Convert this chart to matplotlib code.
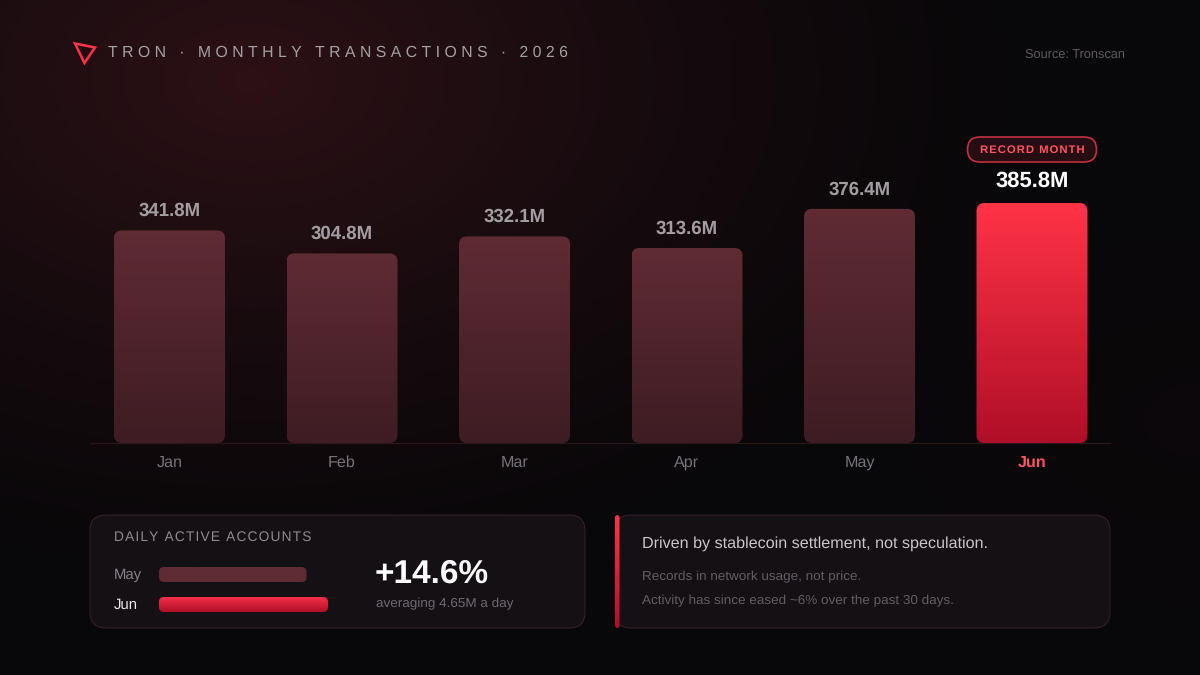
import numpy as np
import matplotlib
matplotlib.use('Agg')
import matplotlib.pyplot as plt
from matplotlib.colors import LinearSegmentedColormap
from matplotlib.patches import FancyBboxPatch, Polygon

plt.rcParams['font.family'] = ['Liberation Sans', 'DejaVu Sans']
plt.rcParams['text.hinting'] = 'no_hinting'
plt.rcParams['text.hinting_factor'] = 8

months = ['Jan', 'Feb', 'Mar', 'Apr', 'May', 'Jun']
transactions = [341.8, 304.8, 332.1, 313.6, 376.4, 385.8]
daily_months = ['May', 'Jun']
daily_accounts = [4.06, 4.65]

W, H = 1200, 675
HAIR = '\u200a'


def tracked(s, sep=HAIR):
    return sep.join(s)


def axes_px(fig, x0, y0, x1, y1):
    # axes from pixel box, y counted from the top
    ax = fig.add_axes([x0 / W, 1 - y1 / H, (x1 - x0) / W, (y1 - y0) / H])
    ax.patch.set_alpha(0)
    ax.axis('off')
    return ax


def rounded(ax, x, y, w, h, r, aspect, c_high, c_low):
    # rounded box with a vertical gradient, c_high at y + h and c_low at y
    patch = FancyBboxPatch((x, y), w, h, boxstyle=f'round,pad=0,rounding_size={r}',
                           mutation_aspect=aspect, fc='none', ec='none')
    ax.add_patch(patch)
    cmap = LinearSegmentedColormap.from_list('g', [c_high, c_low])
    im = ax.imshow(np.linspace(0, 1, 128).reshape(-1, 1), cmap=cmap, aspect='auto',
                   extent=(x, x + w, y, y + h), origin='upper', zorder=2)
    im.set_clip_path(patch)
    return patch


fig = plt.figure(figsize=(W / 100, H / 100), dpi=100)

# background glow
bg = axes_px(fig, 0, 0, W, H)
yy, xx = np.mgrid[0:H, 0:W]
d = np.sqrt(((xx - 250) / 800.0) ** 2 + ((yy - 80) / 520.0) ** 2)
glow = np.clip(1 - d, 0, 1) ** 1.3
d2 = np.sqrt(((xx - 1200) / 500.0) ** 2 + ((yy - 420) / 320.0) ** 2)
glow2 = np.clip(1 - d2, 0, 1) ** 1.5 * 0.1
g = np.clip(glow + glow2, 0, 1)[..., None]
base = np.array([8, 7, 9]) / 255
red = np.array([44, 17, 22]) / 255
bg.imshow(base + (red - base) * g, extent=(0, W, H, 0), aspect='auto', interpolation='bilinear')

# page layer in pixel coordinates
page = axes_px(fig, 0, 0, W, H)
page.set_xlim(0, W)
page.set_ylim(H, 0)

page.add_patch(Polygon([(75, 43.5), (95, 47.5), (84.5, 63)], closed=True, fc='none',
                       ec='#ff3347', lw=1.8, joinstyle='miter'))
page.text(108, 53, tracked('TRON · MONTHLY TRANSACTIONS · 2026', '\u2009\u200a'), color='#a59fa3',
          fontsize=11.3, va='center', ha='left')
page.text(1125, 54.5, 'Source: Tronscan', color='#5f5a60', fontsize=9.2, va='center', ha='right')

# main bars
ax = axes_px(fig, 90, 130, 1110, 443)
xlim = ((90 - 169.5) / 172.5, (1110 - 169.5) / 172.5)
ylim = (0, 313 / 0.622)
bar_w = 111 / 172.5
aspect = (1 / 0.622) * 172.5
for i, v in enumerate(transactions):
    last = i == len(transactions) - 1
    top, bottom = ('#ff3347', '#b00f28') if last else ('#5f2b35', '#3e1c23')
    rounded(ax, i - bar_w / 2, 0, bar_w, v, 8 / 172.5, aspect, top, bottom)
    gap = 22 if last else 19.5
    ax.text(i, v + gap / 0.622, f'{v}M', ha='center', va='center',
            color='white' if last else '#a39da2', fontweight='bold',
            fontsize=15.8 if last else 13.4)
ax.set_xlim(xlim)
ax.set_ylim(ylim)

page.plot([90, 1110], [443, 443], color='#2a171a', lw=0.9, zorder=5)
for i, m in enumerate(months):
    last = i == len(months) - 1
    x = 169.5 + 172.5 * i
    page.text(x, 462.5, m, ha='center', va='center', fontsize=11.6,
              color='#ff5562' if last else '#77727a', fontweight='bold' if last else 'normal')

# record pill
page.add_patch(FancyBboxPatch((967.5, 137), 129, 25, boxstyle='round,pad=0,rounding_size=12.5',
                              fc='#260d13', ec='#c22f45', lw=1.2))
page.text(1032.5, 150.5, tracked('RECORD MONTH'), ha='center', va='center', color='#ff5562',
          fontsize=8.2, fontweight='bold')

# bottom cards
for x0, x1 in [(90, 585), (615, 1110)]:
    page.add_patch(FancyBboxPatch((x0, 515), x1 - x0, 113, boxstyle='round,pad=0,rounding_size=16',
                                  fc='#141014', ec='#38242a', lw=0.7))

page.text(114, 537, tracked('DAILY ACTIVE ACCOUNTS'), color='#8f8a90', fontsize=9.9,
          va='center', ha='left')
for label, y, c in zip(daily_months, [575, 604.5], ['#87828a', '#ece8ea']):
    page.text(114, y, label, color=c, fontsize=10.7, va='center', ha='left')

# daily accounts mini bars, on their own value scale
mini = axes_px(fig, 159, 560, 328, 620)
mini_aspect = 1.0 / (daily_accounts[1] / 169)
for v, y, c in zip(daily_accounts, [7, 37], [('#5f2b35', '#5f2b35'), ('#b00f28', '#f5304a')]):
    rounded(mini, 0, y, v, 15, 5 * daily_accounts[1] / 169, mini_aspect, c[0], c[1])
mini.set_xlim(0, daily_accounts[1])
mini.set_ylim(60, 0)

page.text(375, 574, '+14.6%', color='white', fontsize=24, fontweight='bold', va='center', ha='left')
page.text(376.5, 603.5, 'averaging 4.65M a day', color='#6f6a72', fontsize=9.7, va='center', ha='left')

# note card
accent = axes_px(fig, 615, 515, 619.5, 628)
rounded(accent, 0, 0, 4.5, 113, 2.5, 1, '#b00f28', '#ff3347')
accent.set_xlim(0, 4.5)
accent.set_ylim(113, 0)

page.text(642, 544, 'Driven by stablecoin settlement, not speculation.', color='#c9c5c8',
          fontsize=11.65, va='center', ha='left')
page.text(642, 576.5, 'Records in network usage, not price.', color='#625d64', fontsize=9.7,
          va='center', ha='left')
page.text(642, 600.5, 'Activity has since eased ~6% over the past 30 days.', color='#625d64',
          fontsize=9.7, va='center', ha='left')

fig.savefig('out.png', dpi=100, facecolor='#070608')
